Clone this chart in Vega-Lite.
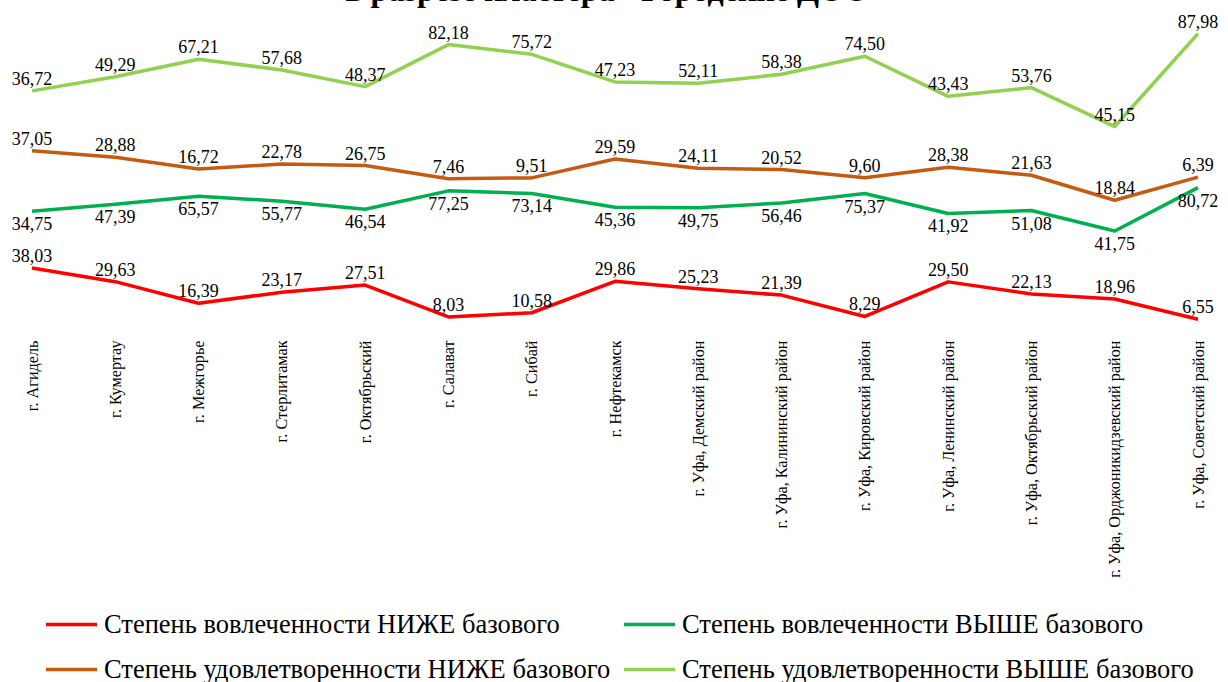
{
  "$schema": "https://vega.github.io/schema/vega-lite/v6.json",
  "width": 1166,
  "height": 310,
  "autosize": {"type": "none"},
  "padding": {"left": 32, "top": 20, "right": 30, "bottom": 352},
  "background": "white",
  "config": {
    "view": {"stroke": null},
    "font": "Liberation Serif",
    "legend": {"labelFont": "Liberation Serif"},
    "locale": {"number": {"decimal": ",", "thousands": " ", "grouping": [3], "currency": ["", ""]}}
  },
  "title": {
    "text": "в разрезе кластера - Городские ДОО",
    "font": "Liberation Serif",
    "fontSize": 32,
    "fontWeight": "bold",
    "color": "black",
    "anchor": "middle",
    "frame": "group",
    "baseline": "alphabetic",
    "offset": 0,
    "dy": 19,
    "dx": -8
  },
  "data": {
    "values": [
      {"c": "г. Агидель", "s": "Степень вовлеченности НИЖЕ базового", "k": 1, "v": 38.03},
      {"c": "г. Кумертау", "s": "Степень вовлеченности НИЖЕ базового", "k": 1, "v": 29.63},
      {"c": "г. Межгорье", "s": "Степень вовлеченности НИЖЕ базового", "k": 1, "v": 16.39},
      {"c": "г. Стерлитамак", "s": "Степень вовлеченности НИЖЕ базового", "k": 1, "v": 23.17},
      {"c": "г. Октябрьский", "s": "Степень вовлеченности НИЖЕ базового", "k": 1, "v": 27.51},
      {"c": "г. Салават", "s": "Степень вовлеченности НИЖЕ базового", "k": 1, "v": 8.03},
      {"c": "г. Сибай", "s": "Степень вовлеченности НИЖЕ базового", "k": 1, "v": 10.58},
      {"c": "г. Нефтекамск", "s": "Степень вовлеченности НИЖЕ базового", "k": 1, "v": 29.86},
      {"c": "г. Уфа, Демский район", "s": "Степень вовлеченности НИЖЕ базового", "k": 1, "v": 25.23},
      {"c": "г. Уфа, Калининский район", "s": "Степень вовлеченности НИЖЕ базового", "k": 1, "v": 21.39},
      {"c": "г. Уфа, Кировский район", "s": "Степень вовлеченности НИЖЕ базового", "k": 1, "v": 8.29},
      {"c": "г. Уфа, Ленинский район", "s": "Степень вовлеченности НИЖЕ базового", "k": 1, "v": 29.50},
      {"c": "г. Уфа, Октябрьский район", "s": "Степень вовлеченности НИЖЕ базового", "k": 1, "v": 22.13},
      {"c": "г. Уфа, Орджоникидзевский район", "s": "Степень вовлеченности НИЖЕ базового", "k": 1, "v": 18.96},
      {"c": "г. Уфа, Советский район", "s": "Степень вовлеченности НИЖЕ базового", "k": 1, "v": 6.55},

      {"c": "г. Агидель", "s": "Степень вовлеченности ВЫШЕ базового", "k": 2, "v": 34.75},
      {"c": "г. Кумертау", "s": "Степень вовлеченности ВЫШЕ базового", "k": 2, "v": 47.39},
      {"c": "г. Межгорье", "s": "Степень вовлеченности ВЫШЕ базового", "k": 2, "v": 65.57},
      {"c": "г. Стерлитамак", "s": "Степень вовлеченности ВЫШЕ базового", "k": 2, "v": 55.77},
      {"c": "г. Октябрьский", "s": "Степень вовлеченности ВЫШЕ базового", "k": 2, "v": 46.54},
      {"c": "г. Салават", "s": "Степень вовлеченности ВЫШЕ базового", "k": 2, "v": 77.25},
      {"c": "г. Сибай", "s": "Степень вовлеченности ВЫШЕ базового", "k": 2, "v": 73.14},
      {"c": "г. Нефтекамск", "s": "Степень вовлеченности ВЫШЕ базового", "k": 2, "v": 45.36},
      {"c": "г. Уфа, Демский район", "s": "Степень вовлеченности ВЫШЕ базового", "k": 2, "v": 49.75},
      {"c": "г. Уфа, Калининский район", "s": "Степень вовлеченности ВЫШЕ базового", "k": 2, "v": 56.46},
      {"c": "г. Уфа, Кировский район", "s": "Степень вовлеченности ВЫШЕ базового", "k": 2, "v": 75.37},
      {"c": "г. Уфа, Ленинский район", "s": "Степень вовлеченности ВЫШЕ базового", "k": 2, "v": 41.92},
      {"c": "г. Уфа, Октябрьский район", "s": "Степень вовлеченности ВЫШЕ базового", "k": 2, "v": 51.08},
      {"c": "г. Уфа, Орджоникидзевский район", "s": "Степень вовлеченности ВЫШЕ базового", "k": 2, "v": 41.75},
      {"c": "г. Уфа, Советский район", "s": "Степень вовлеченности ВЫШЕ базового", "k": 2, "v": 80.72},

      {"c": "г. Агидель", "s": "Степень удовлетворенности НИЖЕ базового", "k": 3, "v": 37.05},
      {"c": "г. Кумертау", "s": "Степень удовлетворенности НИЖЕ базового", "k": 3, "v": 28.88},
      {"c": "г. Межгорье", "s": "Степень удовлетворенности НИЖЕ базового", "k": 3, "v": 16.72},
      {"c": "г. Стерлитамак", "s": "Степень удовлетворенности НИЖЕ базового", "k": 3, "v": 22.78},
      {"c": "г. Октябрьский", "s": "Степень удовлетворенности НИЖЕ базового", "k": 3, "v": 26.75},
      {"c": "г. Салават", "s": "Степень удовлетворенности НИЖЕ базового", "k": 3, "v": 7.46},
      {"c": "г. Сибай", "s": "Степень удовлетворенности НИЖЕ базового", "k": 3, "v": 9.51},
      {"c": "г. Нефтекамск", "s": "Степень удовлетворенности НИЖЕ базового", "k": 3, "v": 29.59},
      {"c": "г. Уфа, Демский район", "s": "Степень удовлетворенности НИЖЕ базового", "k": 3, "v": 24.11},
      {"c": "г. Уфа, Калининский район", "s": "Степень удовлетворенности НИЖЕ базового", "k": 3, "v": 20.52},
      {"c": "г. Уфа, Кировский район", "s": "Степень удовлетворенности НИЖЕ базового", "k": 3, "v": 9.60},
      {"c": "г. Уфа, Ленинский район", "s": "Степень удовлетворенности НИЖЕ базового", "k": 3, "v": 28.38},
      {"c": "г. Уфа, Октябрьский район", "s": "Степень удовлетворенности НИЖЕ базового", "k": 3, "v": 21.63},
      {"c": "г. Уфа, Орджоникидзевский район", "s": "Степень удовлетворенности НИЖЕ базового", "k": 3, "v": 18.84},
      {"c": "г. Уфа, Советский район", "s": "Степень удовлетворенности НИЖЕ базового", "k": 3, "v": 6.39},

      {"c": "г. Агидель", "s": "Степень удовлетворенности ВЫШЕ базового", "k": 4, "v": 36.72},
      {"c": "г. Кумертау", "s": "Степень удовлетворенности ВЫШЕ базового", "k": 4, "v": 49.29},
      {"c": "г. Межгорье", "s": "Степень удовлетворенности ВЫШЕ базового", "k": 4, "v": 67.21},
      {"c": "г. Стерлитамак", "s": "Степень удовлетворенности ВЫШЕ базового", "k": 4, "v": 57.68},
      {"c": "г. Октябрьский", "s": "Степень удовлетворенности ВЫШЕ базового", "k": 4, "v": 48.37},
      {"c": "г. Салават", "s": "Степень удовлетворенности ВЫШЕ базового", "k": 4, "v": 82.18},
      {"c": "г. Сибай", "s": "Степень удовлетворенности ВЫШЕ базового", "k": 4, "v": 75.72},
      {"c": "г. Нефтекамск", "s": "Степень удовлетворенности ВЫШЕ базового", "k": 4, "v": 47.23},
      {"c": "г. Уфа, Демский район", "s": "Степень удовлетворенности ВЫШЕ базового", "k": 4, "v": 52.11},
      {"c": "г. Уфа, Калининский район", "s": "Степень удовлетворенности ВЫШЕ базового", "k": 4, "v": 58.38},
      {"c": "г. Уфа, Кировский район", "s": "Степень удовлетворенности ВЫШЕ базового", "k": 4, "v": 74.50},
      {"c": "г. Уфа, Ленинский район", "s": "Степень удовлетворенности ВЫШЕ базового", "k": 4, "v": 43.43},
      {"c": "г. Уфа, Октябрьский район", "s": "Степень удовлетворенности ВЫШЕ базового", "k": 4, "v": 53.76},
      {"c": "г. Уфа, Орджоникидзевский район", "s": "Степень удовлетворенности ВЫШЕ базового", "k": 4, "v": 45.15},
      {"c": "г. Уфа, Советский район", "s": "Степень удовлетворенности ВЫШЕ базового", "k": 4, "v": 87.98}
    ]
  },
  "transform": [
    {"stack": "v", "groupby": ["c"], "sort": [{"field": "k", "order": "ascending"}], "as": ["v0", "v1"]}
  ],
  "encoding": {
    "x": {
      "field": "c",
      "type": "nominal",
      "sort": ["г. Агидель", "г. Кумертау", "г. Межгорье", "г. Стерлитамак", "г. Октябрьский", "г. Салават", "г. Сибай", "г. Нефтекамск", "г. Уфа, Демский район", "г. Уфа, Калининский район", "г. Уфа, Кировский район", "г. Уфа, Ленинский район", "г. Уфа, Октябрьский район", "г. Уфа, Орджоникидзевский район", "г. Уфа, Советский район"],
      "scale": {"type": "point", "padding": 0},
      "axis": {
        "title": null,
        "domain": false,
        "ticks": false,
        "grid": false,
        "labelAngle": -90,
        "labelFont": "Liberation Serif",
        "labelFontSize": 16.2,
        "labelColor": "black",
        "labelPadding": 10,
        "labelLimit": 400,
        "labelOverlap": false
      }
    },
    "y": {
      "field": "v1",
      "type": "quantitative",
      "scale": {"domain": [0, 190], "nice": false, "zero": true},
      "axis": null
    }
  },
  "layer": [
    {
      "mark": {"type": "line", "strokeWidth": 3.5, "strokeJoin": "round"},
      "encoding": {
        "color": {
          "field": "s",
          "type": "nominal",
          "scale": {
            "domain": ["Степень вовлеченности НИЖЕ базового", "Степень вовлеченности ВЫШЕ базового", "Степень удовлетворенности НИЖЕ базового", "Степень удовлетворенности ВЫШЕ базового"],
            "range": ["#FF0000", "#00B050", "#C55A11", "#92D050"]
          },
          "legend": {
            "title": null,
            "orient": "none",
            "legendX": 12,
            "legendY": 577,
            "direction": "horizontal",
            "columns": 2,
            "symbolType": "stroke",
            "symbolSize": 2601,
            "symbolStrokeWidth": 3.5,
            "labelFont": "Liberation Serif",
            "labelFontSize": 26.5,
            "labelColor": "black",
            "labelOffset": 5,
            "labelLimit": 800,
            "columnPadding": 6,
            "rowPadding": 4
          }
        }
      }
    },
    {
      "transform": [{"filter": "datum.k != 2"}],
      "mark": {"type": "text", "baseline": "alphabetic", "dy": -6, "fontSize": 18, "font": "Liberation Serif", "color": "black"},
      "encoding": {"text": {"field": "v", "type": "quantitative", "format": ".2f"}}
    },
    {
      "transform": [{"filter": "datum.k == 2"}],
      "mark": {"type": "text", "baseline": "top", "dy": 5, "fontSize": 18, "font": "Liberation Serif", "color": "black"},
      "encoding": {"text": {"field": "v", "type": "quantitative", "format": ".2f"}}
    }
  ]
}
